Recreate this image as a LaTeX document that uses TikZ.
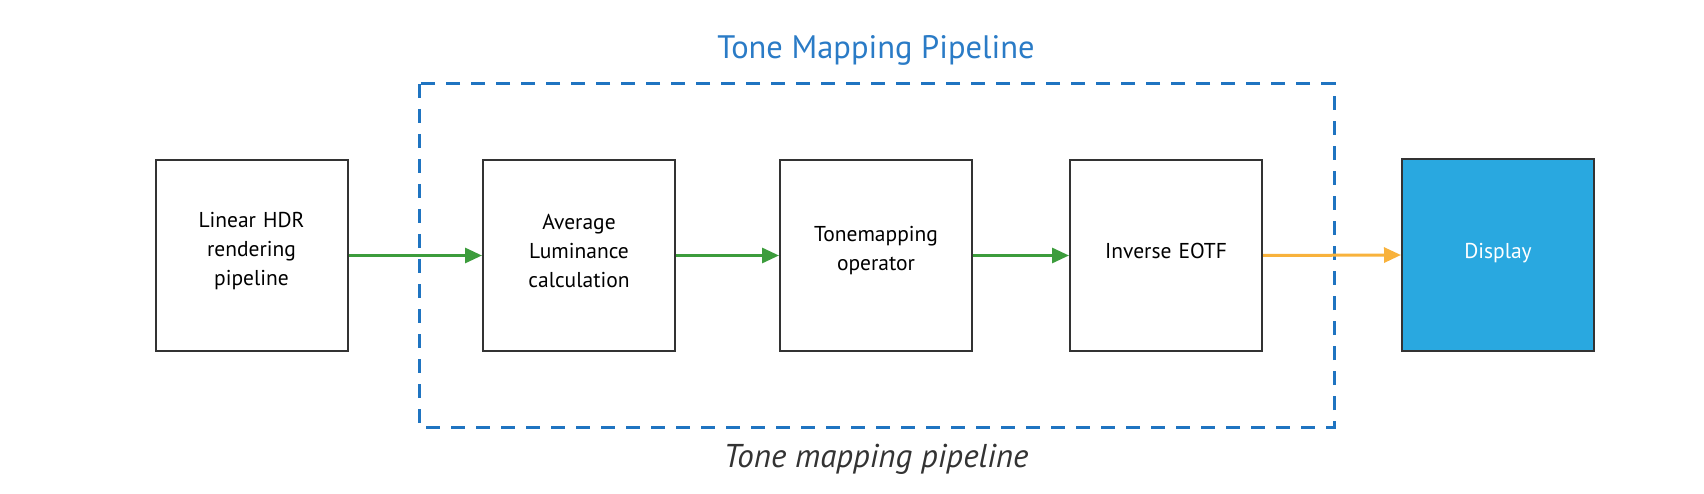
\documentclass[tikz,border=0pt]{standalone}
\usepackage{fontspec}
\setmainfont{PT Sans}
\usetikzlibrary{arrows.meta}
\definecolor{boxline}{HTML}{333333}
\definecolor{dashblue}{HTML}{1F74C1}
\definecolor{titleblue}{HTML}{2A7BC6}
\definecolor{arrgreen}{HTML}{3C9C3C}
\definecolor{arrorange}{HTML}{F8B23C}
\definecolor{dispfill}{HTML}{29A8E0}
\definecolor{captext}{HTML}{333333}
\tikzset{
  stagebox/.style={draw=boxline, line width=2pt, fill=white, minimum width=192pt, minimum height=191pt, inner sep=0pt},
  boxtext/.style={text width=180pt, align=center, font=\fontsize{21.5}{29}\selectfont, inner sep=0pt, yshift=4.5pt},
  dispbox/.style={stagebox, fill=dispfill},
  flow/.style={line width=3pt, -{Triangle[length=17pt, width=15pt]}},
}
\begin{document}
\begin{tikzpicture}[x=1pt, y=-1pt]
\useasboundingbox (0,0) rectangle (1704,494);
\draw[dashblue, line width=3pt, dash pattern=on 14pt off 11pt] (419,84) rectangle (1334,427);
\node[font=\fontsize{32.5}{36}\selectfont, text=titleblue] (title) at (876,50) {Tone Mapping Pipeline};
\node[font=\fontsize{33}{36}\selectfont\itshape, text=captext] (caption) at (876,459) {Tone mapping pipeline};
\node[stagebox, label={[boxtext]center:{Linear HDR\\rendering\\pipeline}}] (lin) at (251.5,255.5) {};
\node[stagebox, label={[boxtext]center:{Average\\Luminance\\calculation}}] (avg) at (579,255.5) {};
\node[stagebox, label={[boxtext]center:{Tonemapping\\operator}}] (tm) at (876,255.5) {};
\node[stagebox, label={[boxtext]center:{Inverse EOTF}}] (inv) at (1166,255.5) {};
\node[dispbox, label={[boxtext, text=white, yshift=-3pt]center:{Display}}] (disp) at (1498,255) {};
\draw[flow, arrgreen] (lin.east) -- (avg.west);
\draw[flow, arrgreen] (avg.east) -- (tm.west);
\draw[flow, arrgreen] (tm.east) -- (inv.west);
\draw[flow, arrorange] (inv.east) -- (disp.west);
\end{tikzpicture}
\end{document}
